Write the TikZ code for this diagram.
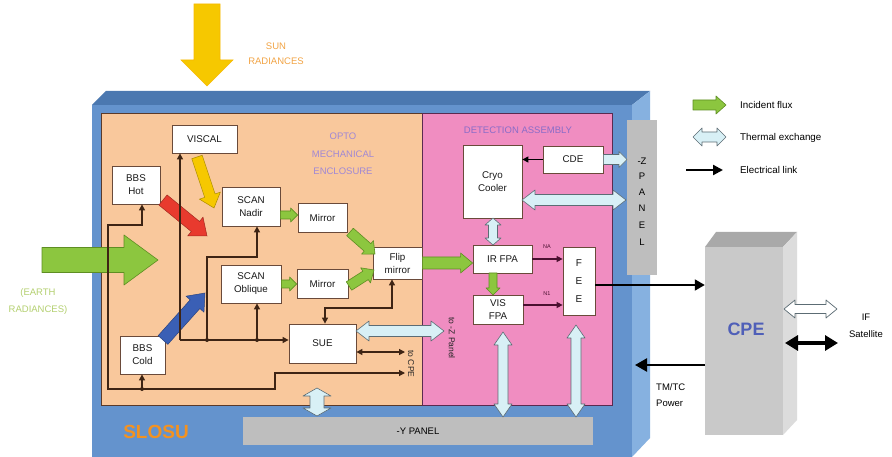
\documentclass[tikz,border=0pt]{standalone}
\usepackage{fontspec}
\setmainfont{Liberation Sans}
\usetikzlibrary{calc,arrows.meta}
\definecolor{bluefront}{HTML}{6493CD}
\definecolor{bluetop}{HTML}{4B78B0}
\definecolor{blueside}{HTML}{86B1E0}
\definecolor{optofill}{HTML}{F9C89C}
\definecolor{optoline}{HTML}{5A3A2A}
\definecolor{detfill}{HTML}{F08DC1}
\definecolor{detline}{HTML}{5A2A50}
\definecolor{panelgray}{HTML}{BEBEBE}
\definecolor{boxline}{HTML}{6A4A3A}
\definecolor{elecbrown}{HTML}{3E2414}
\definecolor{elecmaroon}{HTML}{4A1030}
\definecolor{greenA}{HTML}{8CC63F}
\definecolor{greenD}{HTML}{5E8E22}
\definecolor{thermfill}{HTML}{D8F0F6}
\definecolor{thermline}{HTML}{5C6C74}
\definecolor{redA}{HTML}{E83A2E}
\definecolor{yellowA}{HTML}{F6C800}
\definecolor{blueA}{HTML}{3A5FB5}
\definecolor{suntext}{HTML}{F2A445}
\definecolor{earthtext}{HTML}{B4D070}
\definecolor{optotext}{HTML}{A088D4}
\definecolor{dettext}{HTML}{8A6CC8}
\definecolor{slosu}{HTML}{F39221}
\definecolor{cpeblue}{HTML}{4F5FB8}
\definecolor{cpefront}{HTML}{C9C9C9}
\definecolor{cpetop}{HTML}{A9A9A9}
\definecolor{cpeside}{HTML}{DCDCDC}
% fat single arrow: style, from, to, shaft half width, head half width, head length
\newcommand\fatarrow[6]{%
  \coordinate (fahead) at ($(#3)!#6!(#2)$);
  \path[#1] ($(#2)!#4!90:(#3)$) -- ($(fahead)!#4!-90:(#2)$) -- ($(fahead)!#5!-90:(#2)$)
     -- (#3) -- ($(fahead)!#5!90:(#2)$) -- ($(fahead)!#4!90:(#2)$) -- ($(#2)!#4!-90:(#3)$) -- cycle;}
% fat double arrow
\newcommand\dblarrow[6]{%
  \coordinate (dbA) at ($(#2)!#6!(#3)$);
  \coordinate (dbB) at ($(#3)!#6!(#2)$);
  \path[#1] (#2) -- ($(dbA)!#5!90:(#3)$) -- ($(dbA)!#4!90:(#3)$) -- ($(dbB)!#4!-90:(#2)$)
     -- ($(dbB)!#5!-90:(#2)$) -- (#3) -- ($(dbB)!#5!90:(#2)$) -- ($(dbB)!#4!90:(#2)$)
     -- ($(dbA)!#4!-90:(#3)$) -- ($(dbA)!#5!-90:(#3)$) -- cycle;}
\tikzset{
  box/.style={draw=boxline, fill=white, line width=0.8pt, font=\fontsize{9.8}{13}\selectfont,
    align=center, inner sep=1pt, text=black!90},
  elec/.style={draw=elecbrown, line width=1.2pt},
  elecm/.style={draw=elecmaroon, line width=1.4pt},
  etip/.tip={Triangle[length=6pt,width=6pt]},
  bigtip/.tip={Triangle[length=10pt,width=11pt]},
  incident/.style={fill=greenA, draw=greenD, line width=0.6pt, line join=round},
  thermal/.style={fill=thermfill, draw=thermline, line width=0.6pt, line join=round},
  hollow/.style={fill=white, draw=thermline, line width=0.7pt, line join=round},
  lbl/.style={font=\fontsize{9.5}{12}\selectfont, align=center, inner sep=0pt},
  dot/.style={circle, fill=elecbrown, inner sep=0pt, minimum size=4pt}
}
\begin{document}
\begin{tikzpicture}[x=1pt,y=-1pt]
\useasboundingbox (0,0) rectangle (892,457);
\fill[white] (0,0) rectangle (892,457);
% ---------- SLOSU enclosure ----------
\fill[bluetop] (92,105) -- (106,91) -- (650,91) -- (632,105) -- cycle;
\fill[blueside] (632,105) -- (650,91) -- (650,438) -- (632,457) -- cycle;
\fill[bluefront] (92,105) rectangle (632,457);
\fill[optofill, draw=optoline, line width=0.8pt] (101,113) rectangle (422,405);
\fill[detfill, draw=detline, line width=0.8pt] (422,113) rectangle (612,405);
% panels
\node[fill=panelgray, minimum width=30pt, minimum height=155pt, inner sep=0pt] (zpanel) at (642,197.5) {};
\node[fill=panelgray, minimum width=350pt, minimum height=28pt, inner sep=0pt, font=\fontsize{9.5}{12}\selectfont] (ypanel) at (418,431) {-Y PANEL};
\foreach \t/\yy in {-Z/161,P/176,A/192,N/208,E/225,L/242}
  \node[lbl, font=\fontsize{9.5}{11}\selectfont] at (642,\yy) {\t};
% region titles
\node[lbl, text=optotext, font=\fontsize{9.5}{17.5}\selectfont] (optotitle) at (343,154) {OPTO\\MECHANICAL\\ENCLOSURE};
\node[lbl, text=dettext, font=\fontsize{9.5}{12}\selectfont] (dettitle) at (518,130) {DETECTION ASSEMBLY};
\node[lbl, text=slosu, font=\fontsize{19}{21}\selectfont\bfseries] (slosu) at (156,432) {SLOSU};
% ---------- boxes ----------
\node[box, minimum width=65pt, minimum height=28pt] (viscal) at (204.5,139) {VISCAL};
\node[box, minimum width=48pt, minimum height=38pt] (bbshot) at (136,185) {BBS\\Hot};
\node[box, minimum width=58pt, minimum height=39pt] (scannadir) at (251,206.5) {SCAN\\Nadir};
\node[box, minimum width=49pt, minimum height=29pt] (mirrorA) at (322.5,217.5) {Mirror};
\node[box, minimum width=49pt, minimum height=32pt] (flip) at (397.5,263) {Flip\\mirror};
\node[box, minimum width=60pt, minimum height=38pt] (scanobl) at (251,284) {SCAN\\Oblique};
\node[box, minimum width=51pt, minimum height=29pt] (mirrorB) at (322.5,283.5) {Mirror};
\node[box, minimum width=67pt, minimum height=39pt] (sue) at (322.5,343.5) {SUE};
\node[box, minimum width=45pt, minimum height=38pt] (bbscold) at (142.5,355) {BBS\\Cold};
\node[box, minimum width=59pt, minimum height=73pt] (cryo) at (492.5,181.5) {Cryo\\Cooler};
\node[box, minimum width=60pt, minimum height=27pt] (cde) at (573,159.5) {CDE};
\node[box, minimum width=59pt, minimum height=28pt] (irfpa) at (502.5,259) {IR FPA};
\node[box, minimum width=32pt, minimum height=68pt, font=\fontsize{10}{18}\selectfont] (fee) at (579,281) {F\\E\\E};
\node[box, minimum width=50pt, minimum height=29pt] (visfpa) at (498,309.5) {VIS\\FPA};
% ---------- CPE ----------
\fill[cpetop] (705,247) -- (716,232) -- (797,232) -- (783,247) -- cycle;
\fill[cpeside] (783,247) -- (797,232) -- (797,420) -- (783,435) -- cycle;
\node[fill=cpefront, minimum width=78pt, minimum height=188pt, inner sep=0pt] (cpe) at (744,341) {};
\node[lbl, text=cpeblue, font=\fontsize{18}{20}\selectfont\bfseries] (cpetxt) at (746,329) {CPE};
% ---------- outside texts ----------
\node[lbl, text=suntext, font=\fontsize{9.5}{15}\selectfont] (suntxt) at (276,54) {SUN\\RADIANCES};
\node[lbl, text=earthtext, font=\fontsize{9.5}{17}\selectfont] (earthtxt) at (38,302) {(EARTH\\RADIANCES)};
\node[lbl, font=\fontsize{9.5}{17}\selectfont] (ifsat) at (866,326) {IF\\Satellite};
\node[lbl, align=left, anchor=west, font=\fontsize{9.5}{16}\selectfont] (tmtc) at (656,395) {TM/TC\\Power};
\node[lbl, rotate=-90, font=\fontsize{8.5}{10}\selectfont, text=black!85] (tozp) at (452,338) {to -Z Panel};
\node[lbl, rotate=-90, font=\fontsize{8.5}{10}\selectfont, text=black!85] (tocpe) at (411,364) {to CPE};
\node[lbl, font=\fontsize{5.5}{6}\selectfont, text=elecmaroon] (laba) at (547,247) {NA};
\node[lbl, font=\fontsize{5.5}{6}\selectfont, text=elecmaroon] (labb) at (547,294) {N1};
% legend
\coordinate (lg1a) at (693,105); \coordinate (lg1b) at (726,105);
\coordinate (lg2a) at (693,137); \coordinate (lg2b) at (726,137);
\coordinate (lg3a) at (686,170); \coordinate (lg3b) at (723,170);
\node[lbl, anchor=west, font=\fontsize{9.8}{12}\selectfont] (lgt1) at (740,105) {Incident flux};
\node[lbl, anchor=west, font=\fontsize{9.8}{12}\selectfont] (lgt2) at (740,138) {Thermal exchange};
\node[lbl, anchor=west, font=\fontsize{9.8}{12}\selectfont] (lgt3) at (740,170) {Electrical link};
\fatarrow{incident}{lg1a}{lg1b}{5pt}{9pt}{10pt}
\dblarrow{thermal}{lg2a}{lg2b}{5pt}{9pt}{9pt}
\draw[line width=2.2pt, -{Triangle[length=10pt,width=10pt]}] (lg3a) -- (lg3b);
% ---------- big flux arrows ----------
\coordinate (sunA) at (207,4); \coordinate (sunB) at (207,86);
\fatarrow{fill=yellowA, draw=yellowA!80!orange, line width=0.6pt}{sunA}{sunB}{13pt}{26pt}{26pt}
\coordinate (earA) at (42,260); \coordinate (earB) at (158,260);
\fatarrow{incident}{earA}{earB}{12.5pt}{25pt}{34pt}
\coordinate (redA1) at (163,200); \coordinate (redB1) at (207,236);
\fatarrow{fill=redA, draw=redA!70!black, line width=0.5pt}{redA1}{redB1}{6.5pt}{12pt}{15pt}
\coordinate (yelA1) at (197,157); \coordinate (yelB1) at (214,208);
\fatarrow{fill=yellowA, draw=yellowA!70!black, line width=0.5pt}{yelA1}{yelB1}{5.5pt}{11pt}{13pt}
\coordinate (bluA1) at (163,340); \coordinate (bluB1) at (205,293);
\fatarrow{fill=blueA, draw=blueA!70!black, line width=0.5pt}{bluA1}{bluB1}{6.5pt}{12pt}{15pt}
% ---------- green optical path ----------
\coordinate (g1a) at (scannadir.east |- 0,215); \coordinate (g1b) at (mirrorA.west |- 0,215);
\fatarrow{incident}{g1a}{g1b}{4pt}{7pt}{7pt}
\coordinate (g2a) at (scanobl.east |- 0,284); \coordinate (g2b) at (mirrorB.west |- 0,284);
\fatarrow{incident}{g2a}{g2b}{4pt}{7pt}{7pt}
\coordinate (g3a) at (350,232); \coordinate (g3b) at (375,254);
\fatarrow{incident}{g3a}{g3b}{5pt}{9pt}{10pt}
\coordinate (g4a) at (349,286); \coordinate (g4b) at (374,270);
\fatarrow{incident}{g4a}{g4b}{5pt}{9pt}{10pt}
\coordinate (g5a) at (flip.east); \coordinate (g5b) at (irfpa.west |- flip.east);
\fatarrow{incident}{g5a}{g5b}{6pt}{10pt}{12pt}
\coordinate (g6a) at (493,273); \coordinate (g6b) at (493,295);
\fatarrow{incident}{g6a}{g6b}{4pt}{7pt}{7pt}
% ---------- thermal exchanges ----------
\coordinate (t1a) at (cde.east); \coordinate (t1b) at (627,159.5);
\fatarrow{thermal}{t1a}{t1b}{5pt}{8pt}{8pt}
\coordinate (t2a) at (522,200); \coordinate (t2b) at (626,200);
\dblarrow{thermal}{t2a}{t2b}{5.5pt}{10pt}{13pt}
\coordinate (t3a) at (493,218); \coordinate (t3b) at (493,245);
\dblarrow{thermal}{t3a}{t3b}{4.5pt}{8pt}{7pt}
\coordinate (t4a) at (356,331); \coordinate (t4b) at (444,331);
\dblarrow{thermal}{t4a}{t4b}{5.5pt}{10pt}{13pt}
\coordinate (t5a) at (503,332); \coordinate (t5b) at (503,417);
\dblarrow{thermal}{t5a}{t5b}{5pt}{9pt}{13pt}
\coordinate (t6a) at (576,325); \coordinate (t6b) at (576,417);
\dblarrow{thermal}{t6a}{t6b}{5pt}{9pt}{13pt}
\coordinate (t7a) at (317,388); \coordinate (t7b) at (317,416);
\dblarrow{thermal}{t7a}{t7b}{7pt}{14pt}{8pt}
\coordinate (t8a) at (784,309); \coordinate (t8b) at (837,309);
\dblarrow{hollow}{t8a}{t8b}{4.5pt}{9pt}{11pt}
% ---------- electrical links (opto) ----------
\coordinate (bA) at (180,340);
\coordinate (j1) at (207,340);
\coordinate (j2) at (257,340);
\coordinate (cN) at (257,257);
\draw[elec, -etip] (bA) -- (bA |- viscal.south);
\draw[elec, -etip] (bA) -- (bA -| sue.west);
\draw[elec, -etip] (j1) |- (cN) -- (cN |- scannadir.south);
\draw[elec, -etip] (j2) -- (j2 |- scanobl.south);
\node[dot] at (j1) {};
\node[dot] at (j2) {};
\coordinate (sf1) at (325,308);
\coordinate (sf2) at (392,308);
\draw[elec, etip-etip] (sf1 |- sue.north) -- (sf1) -- (sf2) -- (sf2 |- flip.south);
\coordinate (hotin) at (142,225);
\coordinate (bL) at (108,225);
\coordinate (bLL) at (108,389);
\coordinate (bM) at (275,389);
\coordinate (bMu) at (275,373);
\coordinate (tocpeA) at (405,373);
\coordinate (jc) at (142,389);
\draw[elec, etip-etip] (hotin |- bbshot.south) -- (hotin) -- (bL) -- (bLL) -- (bM) -- (bMu) -- (tocpeA);
\draw[elec, -etip] (jc) -- (jc |- bbscold.south);
\node[dot] at (jc) {};
\coordinate (tocpeB) at (405,352);
\draw[elec, etip-etip] (sue.east |- tocpeB) -- (tocpeB);
% ---------- electrical links (detection) ----------
\draw[elec, draw=black, -etip] (cde.west) -- (cde.west -| cryo.east);
\draw[elecm, -etip] (irfpa.east) -- (irfpa.east -| fee.west);
\draw[elecm, -etip] (visfpa.east |- 0,305) -- (fee.west |- 0,305);
\coordinate (feeout) at (595,285);
\draw[line width=1.8pt, -bigtip] (feeout) -- (feeout -| cpe.west);
\coordinate (tmtcA) at (705,365); \coordinate (tmtcB) at (635,365);
\draw[line width=2.4pt, -{Triangle[length=12pt,width=13pt]}] (tmtcA) -- (tmtcB);
\coordinate (ifA) at (785,343); \coordinate (ifB) at (838,343);
\draw[line width=3.2pt, {Triangle[length=13pt,width=15pt]}-{Triangle[length=13pt,width=15pt]}] (ifA) -- (ifB);
\end{tikzpicture}
\end{document}
